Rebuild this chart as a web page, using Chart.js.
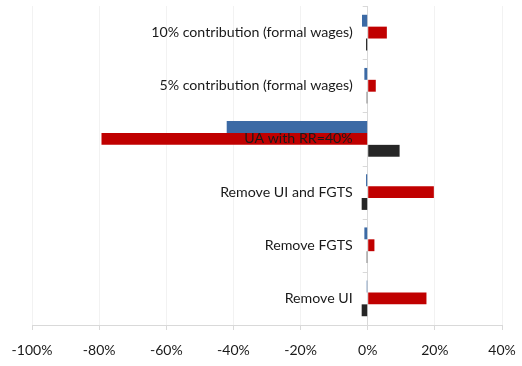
<!DOCTYPE html>
<html>
<head>
<meta charset="utf-8">
<script src="https://cdn.jsdelivr.net/npm/chart.js@4/dist/chart.umd.min.js"></script>
<style>
  html, body { margin: 0; padding: 0; background: #fff; }
  #wrap { width: 522px; height: 366px; }
</style>
</head>
<body>
<div id="wrap"><canvas id="chart"></canvas></div>
<script>
// Data
const categories = [
    '10% contribution (formal wages)',
    '5% contribution (formal wages)',
    'UA with RR=40%',
    'Remove UI and FGTS',
    'Remove FGTS',
    'Remove UI'
];
const blueSeries = [-0.017, -0.010, -0.420, -0.005, -0.010, -0.003];
const redSeries = [0.057, 0.024, -0.793, 0.197, 0.020, 0.175];
const blackSeries = [-0.005, -0.003, 0.095, -0.018, -0.003, -0.018];
const xTicks = [-1, -0.8, -0.6, -0.4, -0.2, 0, 0.2, 0.4];

// Colors
const colors = {
    blue: '#3c6aa5',
    red: '#c00000',
    black: '#262626',
    axis: '#d9d9d9',
    grid: '#f2f2f2',
    text: '#1a1a1a'
};

// Category labels drawn next to the zero line, on top of the bars
const zeroAxisLabels = {
    id: 'zeroAxisLabels',
    afterDatasetsDraw(chart) {
        const { ctx, scales: { x, y } } = chart;
        const x0 = x.getPixelForValue(0);
        ctx.save();

        // tick marks between categories
        ctx.strokeStyle = colors.axis;
        ctx.lineWidth = 1;
        const step = (y.bottom - y.top) / categories.length;
        for (let i = 0; i <= categories.length; i++) {
            const py = Math.round(y.top + i * step) + 0.5;
            ctx.beginPath();
            ctx.moveTo(x0 - 5, py);
            ctx.lineTo(x0, py);
            ctx.stroke();
        }

        // labels
        ctx.fillStyle = colors.text;
        ctx.font = '14.2px Lato';
        ctx.textAlign = 'right';
        ctx.textBaseline = 'middle';
        categories.forEach((label, i) => {
            ctx.fillText(label, x0 - 15, y.getPixelForValue(i));
        });
        ctx.restore();
    }
};

const ctx = document.getElementById('chart').getContext('2d');
const chart = new Chart(ctx, {
    type: 'bar',
    data: {
        labels: categories,
        datasets: [
            { label: 'A', data: blueSeries, backgroundColor: colors.blue },
            { label: 'B', data: redSeries, backgroundColor: colors.red },
            { label: 'C', data: blackSeries, backgroundColor: colors.black }
        ]
    },
    plugins: [zeroAxisLabels],
    options: {
        indexAxis: 'y',
        responsive: true,
        maintainAspectRatio: false,
        animation: false,
        datasets: {
            bar: {
                categoryPercentage: 0.67,
                barPercentage: 1.0
            }
        },
        layout: {
            padding: { left: 32, right: 20, top: 6, bottom: 0 }
        },
        plugins: {
            legend: { display: false },
            tooltip: { enabled: false }
        },
        scales: {
            x: {
                min: -1,
                max: 0.4,
                afterBuildTicks: (scale) => {
                    scale.ticks = xTicks.map(v => ({ value: v }));
                },
                afterFit: (scale) => {
                    scale.height = 41;
                    scale.paddingLeft = 0;
                    scale.paddingRight = 0;
                },
                grid: {
                    color: colors.grid,
                    tickColor: colors.axis,
                    tickLength: 5
                },
                border: { color: colors.axis },
                ticks: {
                    padding: 12,
                    color: colors.text,
                    font: { family: 'Lato', size: 14 },
                    callback: (v) => Math.round(v * 100) + '%'
                }
            },
            y: {
                position: { x: 0 },
                grid: { display: false },
                border: { color: colors.axis },
                ticks: { display: false }
            }
        }
    }
});
</script>
</body>
</html>
